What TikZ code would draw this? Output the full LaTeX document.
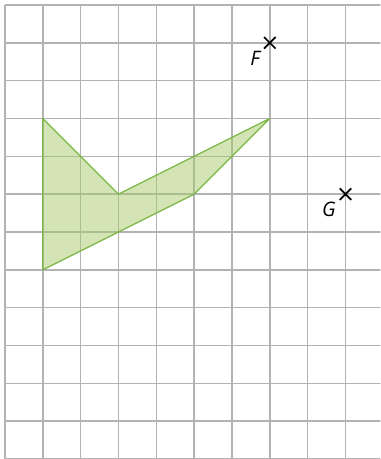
\documentclass[tikz,border=0pt]{standalone}
\usepackage{fontspec}
\setmainfont{Open Sans}
\usepackage{tikz}
\usetikzlibrary{shapes.misc,positioning}
\definecolor{gridgray}{HTML}{B3B3B3}
\definecolor{shapeline}{HTML}{7AB648}
\definecolor{shapefill}{HTML}{A9C96A}

\begin{document}
\begin{tikzpicture}[
    gridline/.style={draw=gridgray, line width=1.1pt},
    figfill/.style={draw=shapeline, fill=shapefill, fill opacity=0.5, line width=0.9pt, line join=round},
    pointmark/.style={draw=black, cross out, minimum size=0.26cm, inner sep=0pt, line width=1.3pt},
    lbl/.style={inner sep=0pt, font=\fontsize{15}{18}\selectfont\itshape}
]
    \useasboundingbox (-0.132,-12.0) rectangle (9.92,0.132);
    \clip (-0.132,-12.0) rectangle (9.92,0.132);
    \draw [gridline] (0,-12) grid (10,0);

    \coordinate (a) at (1,-3);
    \coordinate (b) at (3,-5);
    \coordinate (c) at (7,-3);
    \coordinate (d) at (5,-5);
    \coordinate (e) at (1,-7);
    \path [figfill] (a) -- (b) -- (c) -- (d) -- (e) -- cycle;

    \node [pointmark] (F) at (7,-1) {};
    \node [lbl, below left=0.06cm and 0.1cm of F] (Flbl) {F};
    \node [pointmark] (G) at (9,-5) {};
    \node [lbl, below left=0.06cm and 0.1cm of G] (Glbl) {G};
\end{tikzpicture}
\end{document}
